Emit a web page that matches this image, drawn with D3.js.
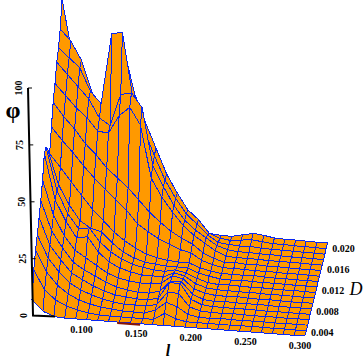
<!DOCTYPE html>
<html>
<head>
<meta charset="utf-8">
<script src="https://cdn.jsdelivr.net/npm/d3@7"></script>
<style>
  html, body { margin: 0; padding: 0; background: #fff; }
  svg { display: block; }
  text { font-family: "Liberation Serif", serif; fill: #000; }
</style>
</head>
<body>
<div id="surface_dataviz"></div>
<script>
// grid of the surface
const lValues = [0.05, 0.06, 0.07, 0.08, 0.09, 0.10, 0.11, 0.12, 0.13, 0.14, 0.15, 0.16, 0.17,
                 0.18, 0.19, 0.20, 0.21, 0.22, 0.23, 0.24, 0.25, 0.26, 0.27, 0.28, 0.29, 0.30];
const dValues = [0.003, 0.004, 0.005, 0.006, 0.007, 0.008, 0.009, 0.010, 0.011,
                 0.012, 0.013, 0.014, 0.015, 0.016, 0.017, 0.018, 0.019, 0.020];

// phi, one line per l, going from D = 0.003 to D = 0.020
const phiValues = [
  [7, 17.7, 24, 28.5, 34, 39, 45.7, 55, 55.5, 52, 48, 57.5, 66, 72, 79, 83, 89, 100],
  [2.3, 9.3, 15, 18.7, 22, 26, 30.7, 35, 37, 37, 42.5, 52, 60, 67, 74, 79, 84, 75],
  [0.3, 5.3, 9.5, 13, 16, 19, 22, 26, 27, 28.5, 36.5, 47, 55, 62, 69, 75, 76, 65],
  [0, 3, 6, 8.5, 10.6, 13, 16, 19, 21, 22, 30.7, 41.5, 49, 58, 64, 65, 62, 50],
  [0, 1.6, 3.7, 5.8, 8, 10, 13, 20, 21.5, 19, 25, 36.5, 44.5, 52.5, 56, 60, 48, 43],
  [0, 0.7, 2.3, 4, 5.6, 7.7, 10, 13.6, 15.7, 17.8, 20.5, 32, 39, 52, 53, 91, 79, 73],
  [0, 0.1, 1.3, 2.5, 3.8, 5.4, 7, 9.6, 11.7, 13.3, 15.8, 27.6, 35, 60, 67, 92, 82, 74],
  [0, 0, 0.8, 1.6, 2.4, 3.6, 5.3, 7.3, 9, 9.7, 12.3, 23.5, 31, 64, 68, 63, 63, 57],
  [0, 0, 0.3, 1, 1.9, 2.6, 4.3, 6, 7, 7.5, 9.5, 18, 26, 56.6, 62, 50, 51, 44],
  [0, 0, 0.2, 1, 1.4, 2, 3.8, 5, 6, 6, 7.2, 14.8, 21, 33.7, 37, 39, 40, 33],
  [0, 0, 0.1, 0.9, 1.3, 2, 3.7, 5, 5.3, 5.5, 6, 12, 17, 25.7, 28, 28.6, 29, 22],
  [0, 0, 1.8, 2, 2.5, 3.2, 4.5, 4.8, 5, 5, 5.2, 10, 13.4, 19.5, 20, 21, 21, 14.5],
  [0, 3, 5.5, 7.7, 9.6, 8, 8, 7, 6, 5, 4.8, 8, 10.7, 14, 14, 14.4, 14, 7.5],
  [0, 1, 4, 7.5, 9.6, 8, 7, 6, 5, 4.9, 4.8, 7, 8.5, 10, 10, 10.4, 10, 3],
  [0, 0, 1, 2, 3, 3, 3, 3, 3, 3, 3, 4, 5, 7, 7, 6, 4.5, 2],
  [0, 0, 0, 0.5, 1, 1, 1.5, 1.5, 1.5, 2, 2, 2.5, 3, 4, 4, 3, 2.6, 1.5],
  [0, 0, 0, 0.3, 0.5, 0.5, 0.8, 1, 1, 1.2, 1.2, 1.5, 1.5, 2, 2.5, 2.5, 2, 1.5],
  [0, 0, 0.2, 0.2, 0.5, 0.8, 0.8, 1, 1.2, 1, 1.3, 1.5, 1.8, 1.6, 2, 2.2, 2.5, 2.5],
  [0, 0, 0.2, 0.4, 0.4, 0.6, 1, 0.8, 1, 1.3, 1.2, 1.5, 1.4, 1.8, 2, 2.4, 3, 3.5],
  [0, 0.2, 0, 0.3, 0.5, 0.5, 0.7, 1, 0.9, 1.1, 1.4, 1.2, 1.6, 1.6, 1.8, 2, 2.5, 3],
  [0, 0, 0.2, 0.2, 0.4, 0.7, 0.6, 0.8, 1, 1, 1.2, 1.4, 1.3, 1.5, 1.8, 1.8, 2, 2.2],
  [0, 0.2, 0.2, 0.3, 0.3, 0.5, 0.7, 0.7, 0.9, 1.1, 1, 1.2, 1.4, 1.4, 1.6, 1.8, 2, 2],
  [0, 0, 0.1, 0.3, 0.4, 0.4, 0.6, 0.8, 0.8, 1, 1.1, 1.1, 1.3, 1.5, 1.5, 1.7, 1.8, 2],
  [0, 0.1, 0.2, 0.2, 0.4, 0.5, 0.5, 0.7, 0.9, 0.9, 1, 1.2, 1.2, 1.4, 1.5, 1.6, 1.8, 1.9],
  [0, 0, 0.2, 0.3, 0.3, 0.5, 0.6, 0.6, 0.8, 1, 1, 1.1, 1.3, 1.3, 1.5, 1.6, 1.7, 1.8],
  [0.3, 0.2, 0.2, 0.3, 0.4, 0.4, 0.6, 0.7, 0.7, 0.9, 1, 1, 1.2, 1.3, 1.4, 1.5, 1.6, 1.8]
];

const lTicks = [0.100, 0.150, 0.200, 0.250, 0.300];
const dTicks = [0.004, 0.008, 0.012, 0.016, 0.020];
const phiTicks = [0, 25, 50, 75, 100];

const width = 364, height = 359;
const originX = 32, originY = 315.6; // screen spot of l = 0.05, D = 0.003, phi = 0

const svg = d3.select("#surface_dataviz")
  .append("svg")
    .attr("width", width)
    .attr("height", height);

// oblique projection: each data axis moves the point along its own screen direction
const lToX = d3.scaleLinear().domain([0.05, 0.30]).range([0, 273]);
const lToY = d3.scaleLinear().domain([0.05, 0.30]).range([0, 20.5]);
const dToFrac = d3.scaleLinear().domain([0.003, 0.020]).range([0, 1]);
const dSideways = d3.scaleLinear().domain([0.05, 0.30]).range([30, 22.5]); // bit of perspective
const dToY = d3.scaleLinear().domain([0.003, 0.020]).range([0, -89]);
const phiToY = d3.scaleLinear().domain([0, 100]).range([0, -228]);

function project(l, D, phi) {
  return [originX + lToX(l) + dToFrac(D) * dSideways(l), originY + lToY(l) + dToY(D) + phiToY(phi)];
}

// quads from back to front so nearer ones hide the farther ones
const quads = [];
for (let j = dValues.length - 2; j >= 0; j--) {
  for (let i = 0; i < lValues.length - 1; i++) {
    quads.push([
      project(lValues[i], dValues[j], phiValues[i][j]),
      project(lValues[i + 1], dValues[j], phiValues[i + 1][j]),
      project(lValues[i + 1], dValues[j + 1], phiValues[i + 1][j + 1]),
      project(lValues[i], dValues[j + 1], phiValues[i][j + 1])
    ]);
  }
}

const quadPath = d3.line().curve(d3.curveLinearClosed);

svg.append("g")
  .selectAll("path")
  .data(quads)
  .join("path")
    .attr("d", d => quadPath(d))
    .attr("fill", "#ff9900")
    .attr("stroke", "#0a28f0")
    .attr("stroke-width", 1)
    .attr("stroke-linejoin", "round")
    .attr("shape-rendering", "crispEdges");

// dark strip where the underside shows at the front
svg.append("path")
  .attr("d", d3.line()([project(0.128, 0.003, 0), project(0.149, 0.003, 0)]))
  .attr("transform", "translate(0,1)")
  .attr("stroke", "#8b1500")
  .attr("stroke-width", 2)
  .attr("fill", "none");

// phi axis leans a little, so x comes from its own scale
const axisX = d3.scaleLinear().domain([0, 100]).range([33, 28]);
const axisY = d3.scaleLinear().domain([0, 100]).range([315.6, 88]);

const axisG = svg.append("g");
axisG.append("path")
  .attr("d", d3.line()([[55, 316.5], [axisX(0), 315.6], [axisX(100), axisY(100)]]))
  .attr("fill", "none")
  .attr("stroke", "#000")
  .attr("stroke-width", 2);

axisG.selectAll("line")
  .data(phiTicks)
  .join("line")
    .attr("x1", d => axisX(d))
    .attr("x2", d => axisX(d) + 4)
    .attr("y1", d => axisY(d))
    .attr("y2", d => axisY(d))
    .attr("stroke", "#000");

axisG.selectAll("text")
  .data(phiTicks)
  .join("text")
    .attr("transform", d => "translate(" + (axisX(d) - 6) + "," + axisY(d) + ") rotate(-90)")
    .attr("text-anchor", "middle")
    .style("font-size", "10px")
    .style("font-weight", "bold")
    .text(d => d);

// l tick labels under the front edge
svg.append("g")
  .selectAll("text")
  .data(lTicks)
  .join("text")
    .attr("x", d => project(d, 0.003, 0)[0] - 5)
    .attr("y", d => project(d, 0.003, 0)[1] + 13)
    .attr("text-anchor", "middle")
    .style("font-size", "10px")
    .style("font-weight", "bold")
    .text(d => d.toFixed(3));

// D tick labels along the right edge
svg.append("g")
  .selectAll("text")
  .data(dTicks)
  .join("text")
    .attr("x", d => project(0.30, d, 0)[0] + 16)
    .attr("y", d => project(0.30, d, 0)[1] + 5)
    .attr("text-anchor", "middle")
    .style("font-size", "10px")
    .style("font-weight", "bold")
    .text(d => d.toFixed(3));

// axis titles
svg.append("text")
  .attr("x", 13).attr("y", 118)
  .attr("text-anchor", "middle")
  .style("font-size", "24px").style("font-weight", "bold")
  .text("φ");

svg.append("text")
  .attr("x", 168).attr("y", 356)
  .attr("text-anchor", "middle")
  .style("font-size", "16px").style("font-style", "italic").style("font-weight", "bold")
  .text("l");

svg.append("text")
  .attr("x", 356).attr("y", 295)
  .attr("text-anchor", "middle")
  .style("font-size", "18px").style("font-style", "italic")
  .text("D");
</script>
</body>
</html>
